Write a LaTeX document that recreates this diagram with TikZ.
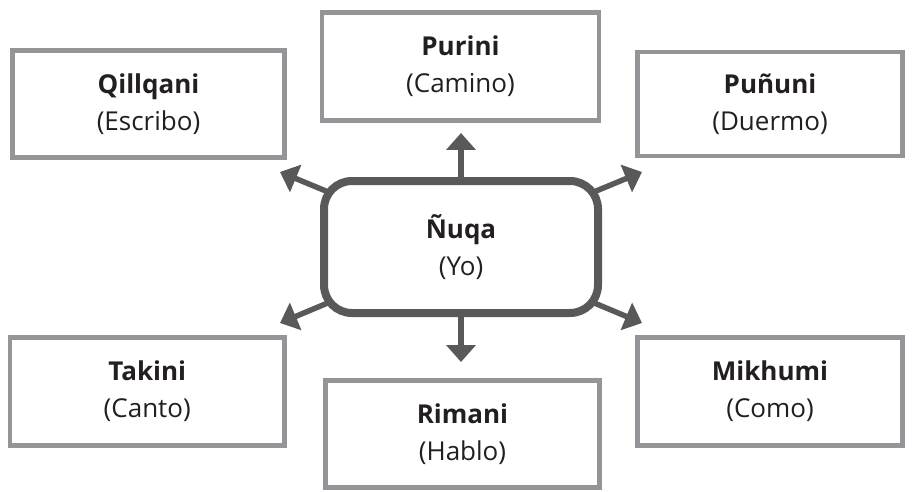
\documentclass[tikz,border=0pt]{standalone}
\usepackage{fontspec}
\setmainfont{Open Sans}
\usetikzlibrary{arrows.meta,backgrounds}
\definecolor{boxgray}{HTML}{939598}
\definecolor{darkgray}{HTML}{58595B}
\definecolor{txt}{HTML}{231F20}
\tikzset{
  leaf/.style={draw=boxgray, line width=4.5pt, fill=white, inner sep=0pt,
    align=center, text=txt, font=\fontsize{26}{37}\selectfont},
  hub/.style={draw=darkgray, line width=8pt, rounded corners=28pt, fill=white,
    inner sep=0pt, align=center, text=txt, font=\fontsize{26}{37}\selectfont,
    minimum width=274pt, minimum height=132pt},
  arr/.style={draw=darkgray, line width=5.5pt,
    -{Triangle[length=17pt,width=29pt]}}
}
\begin{document}
\begin{tikzpicture}[x=1pt,y=-1pt]
\useasboundingbox (0,0) rectangle (913,492);
\node[hub] (c) at (461,247) {\textbf{Ñuqa}\\(Yo)};
\node[leaf, minimum width=277pt, minimum height=108pt] (purini) at (460.5,66.5) {\textbf{Purini}\\(Camino)};
\node[leaf, minimum width=272pt, minimum height=107pt] (qillqani) at (148.5,104) {\textbf{Qillqani}\\(Escribo)};
\node[leaf, minimum width=265pt, minimum height=104pt] (pununi) at (770,104) {\textbf{Puñuni}\\(Duermo)};
\node[leaf, minimum width=274.5pt, minimum height=108pt] (takini) at (147.25,391.5) {\textbf{Takini}\\(Canto)};
\node[leaf, minimum width=274pt, minimum height=107pt] (rimani) at (462.5,434) {\textbf{Rimani}\\(Hablo)};
\node[leaf, minimum width=265pt, minimum height=108pt] (mikhumi) at (770,391.5) {\textbf{Mikhumi}\\(Como)};
\coordinate (tU) at (461,133);
\coordinate (tD) at (461,362);
\coordinate (tUL) at (280,172);
\coordinate (tUR) at (642,172);
\coordinate (tLL) at (280,323);
\coordinate (tLR) at (642,323);
\begin{pgfonlayer}{background}
\draw[arr] (c.center) -- (tU);
\draw[arr] (c.center) -- (tD);
\draw[arr] (c.center) -- (tUL);
\draw[arr] (c.center) -- (tUR);
\draw[arr] (c.center) -- (tLL);
\draw[arr] (c.center) -- (tLR);
\end{pgfonlayer}
\end{tikzpicture}
\end{document}
